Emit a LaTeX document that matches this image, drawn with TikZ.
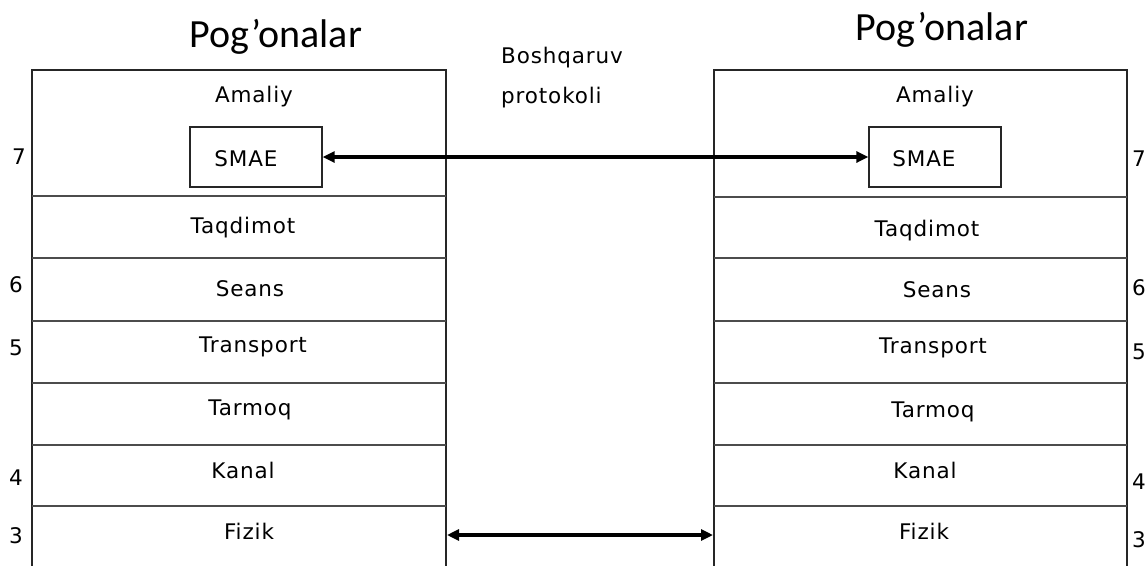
\documentclass[tikz,border=0pt]{standalone}
\usepackage{fontspec}
\setmainfont{DejaVu Sans}[LetterSpace=4]
\newfontfamily\titlefont{Carlito}
\usetikzlibrary{arrows.meta}
\tikzset{
  frame/.style={line width=1.6pt, draw=black!85},
  sep/.style={line width=1.6pt, draw=black!70},
  lbl/.style={font=\fontsize{21.5}{26}\selectfont, inner sep=0pt, anchor=center},
  ttl/.style={font=\titlefont\fontsize{40}{46}\selectfont, inner sep=0pt, anchor=center},
  smae/.style={draw=black!85, line width=1.4pt, minimum width=132pt, minimum height=60pt, inner sep=0pt},
  conn/.style={line width=3.4pt, {Triangle[length=12pt,width=11pt]}-{Triangle[length=12pt,width=11pt]}}
}
\begin{document}
\begin{tikzpicture}[x=1pt,y=-1pt]
\useasboundingbox (0,0) rectangle (1148,565);
% left stack
\draw[frame] (32,567) -- (32,70) -- (446,70) -- (446,567);
\foreach \yy in {196,258,321,383,445,506} \draw[sep] (32,\yy) -- (446,\yy);
% right stack
\draw[frame] (714,567) -- (714,70) -- (1127,70) -- (1127,567);
\foreach \yy in {197,258,321,383,445,506} \draw[sep] (714,\yy) -- (1127,\yy);
% titles
\node[ttl] (tL) at (276,37) {Pog’onalar};
\node[ttl] (tR) at (942,30) {Pog’onalar};
% middle label
\node[lbl, anchor=west, align=left] (bp) at (501,78) {Boshqaruv\\[14pt]protokoli};
% left layer texts
\node[lbl] (aL) at (254,97) {Amaliy};
\node[smae] (sL) at (256,157) {};
\node[lbl] at (246,159) {SMAE};
\node[lbl] (qL) at (243,228) {Taqdimot};
\node[lbl] (seL) at (250,289) {Seans};
\node[lbl] (trL) at (253,347) {Transport};
\node[lbl] (taL) at (250,410) {Tarmoq};
\node[lbl] (kL) at (243,470) {Kanal};
\node[lbl] (fL) at (249,531) {Fizik};
% right layer texts
\node[lbl] (aR) at (935,97) {Amaliy};
\node[smae] (sR) at (935,157) {};
\node[lbl] at (924,159) {SMAE};
\node[lbl] (qR) at (927,231) {Taqdimot};
\node[lbl] (seR) at (937,290) {Seans};
\node[lbl] (trR) at (933,348) {Transport};
\node[lbl] (taR) at (933,412) {Tarmoq};
\node[lbl] (kR) at (925,470) {Kanal};
\node[lbl] (fR) at (924,531) {Fizik};
% layer numbers
\node[lbl] (n7L) at (19,157) {7};
\node[lbl] (n6L) at (16,285) {6};
\node[lbl] (n5L) at (16,348) {5};
\node[lbl] (n4L) at (16,478) {4};
\node[lbl] (n3L) at (16,536) {3};
\node[lbl] (n7R) at (1139,159) {7};
\node[lbl] (n6R) at (1139,288) {6};
\node[lbl] (n5R) at (1139,352) {5};
\node[lbl] (n4R) at (1139,482) {4};
\node[lbl] (n3R) at (1139,540) {3};
% connectors
\draw[conn] (sL.east) -- (sR.west);
\coordinate (pL) at (447,535);
\coordinate (pR) at (713,535);
\draw[conn] (pL) -- (pR);
\end{tikzpicture}
\end{document}
